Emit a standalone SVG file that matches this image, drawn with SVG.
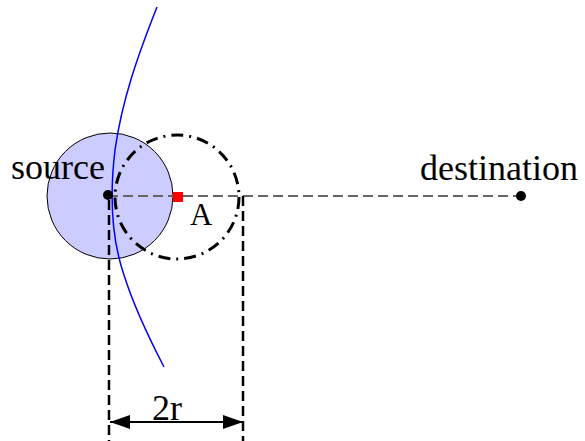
<svg xmlns="http://www.w3.org/2000/svg" width="585" height="441" viewBox="0 0 585 441">
<style>
text{font-family:"Liberation Serif","Times New Roman",serif;fill:#000}
.vd{stroke:#000;stroke-width:2.5;stroke-dasharray:10,5;fill:none}
</style>
<defs>
<marker id="ah" markerWidth="20" markerHeight="14" refX="20" refY="7" orient="auto-start-reverse" markerUnits="userSpaceOnUse">
<path d="M0,0 L20,7 L0,14 Z" fill="#000"/>
</marker>
</defs>
<rect width="585" height="441" fill="#fff"/>
<g id="range">
<circle cx="110" cy="196" r="63" fill="#ccccff" stroke="#000" stroke-width="1"/>
</g>
<g id="connectors">
<line x1="108" y1="196" x2="521" y2="196" stroke="#666" stroke-width="1.8" stroke-dasharray="10,5"/>
<circle cx="177" cy="197" r="62" fill="none" stroke="#000" stroke-width="3" stroke-dasharray="12,6,2,6"/>
<line class="vd" x1="109" y1="200" x2="109" y2="441"/>
<line class="vd" x1="243" y1="196" x2="243" y2="441"/>
<line x1="110" y1="422" x2="243" y2="422" stroke="#000" stroke-width="2" marker-start="url(#ah)" marker-end="url(#ah)"/>
<path d="M157,7 C138,55 122,100 115,150 C109,200 112,240 124,275 C135,310 150,340 164,367" fill="none" stroke="#0000ff" stroke-width="1.5"/>
</g>
<g id="source">
<circle cx="108" cy="195" r="5" fill="#000"/>
<text x="11" y="179" font-size="36">source</text>
</g>
<g id="A">
<rect x="173" y="192" width="10" height="10" fill="#ff0000"/>
<text x="190" y="225" font-size="31">A</text>
</g>
<g id="destination">
<circle cx="521" cy="196" r="5" fill="#000"/>
<text x="420" y="180" font-size="36">destination</text>
</g>
<g id="label2r">
<text x="152" y="420" font-size="36">2r</text>
</g>
</svg>
